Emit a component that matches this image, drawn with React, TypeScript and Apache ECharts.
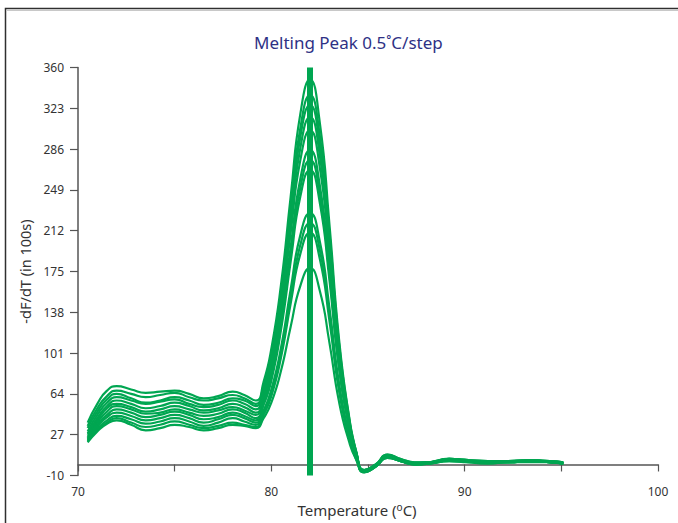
import React, { useEffect, useRef } from "react";
import * as echarts from "echarts";

// Temperatures (°C) at which each melt curve is sampled
const TEMPS = [70.5, 71, 71.5, 72, 72.75, 73.5, 74.25, 75, 75.75, 76.5, 77.25, 78, 78.6, 79.2, 79.6, 80, 80.5, 81, 81.5, 82, 82.5, 83, 83.5, 84, 84.4, 84.8, 85.4, 86, 86.7, 87.4, 88.2, 89.2, 90.2, 91.2, 92.2, 93.5, 94.4, 95.1];

// -dF/dT (in 100s) for each sample well
const CURVE_01 = [38, 55, 67, 71, 68, 65, 66, 67, 64, 60, 62, 66, 63, 58, 75, 105, 163, 243, 318, 349, 311, 219, 114, 46, 11, -7, -2, 6, 3, 0, 1, 4, 3, 2, 2, 3, 2, 1];
const CURVE_02 = [35, 51, 62, 67, 64, 61, 63, 65, 61, 58, 60, 63, 60, 55, 72, 100, 156, 233, 305, 335, 299, 211, 110, 45, 11, -6, -1, 8, 4, 1, 2, 5, 3, 2, 3, 4, 2, 1];
const CURVE_03 = [33, 48, 59, 64, 60, 56, 58, 61, 58, 54, 56, 60, 58, 53, 69, 97, 151, 226, 297, 326, 290, 204, 106, 43, 10, -7, -2, 7, 3, 0, 1, 4, 2, 1, 2, 3, 2, 1];
const CURVE_04 = [30, 45, 56, 61, 58, 55, 57, 59, 55, 52, 54, 58, 55, 50, 66, 92, 145, 218, 287, 315, 281, 198, 103, 42, 10, -6, -1, 9, 5, 2, 2, 5, 4, 3, 2, 4, 3, 2];
const CURVE_05 = [28, 42, 53, 58, 55, 51, 53, 56, 53, 49, 51, 55, 52, 47, 62, 88, 139, 210, 276, 303, 270, 191, 100, 41, 10, -5, 0, 8, 4, 1, 2, 4, 3, 2, 3, 3, 2, 1];
const CURVE_06 = [27, 40, 51, 55, 52, 48, 50, 53, 50, 47, 49, 52, 49, 45, 59, 83, 131, 197, 259, 285, 254, 178, 92, 37, 8, -7, -2, 6, 3, 0, 1, 3, 2, 1, 2, 2, 2, 1];
const CURVE_07 = [25, 38, 48, 53, 50, 46, 47, 50, 47, 44, 46, 50, 47, 42, 56, 79, 126, 191, 251, 276, 246, 173, 90, 36, 8, -6, -1, 7, 4, 1, 2, 5, 3, 2, 2, 3, 3, 2];
const CURVE_08 = [24, 36, 45, 50, 47, 43, 45, 48, 45, 41, 43, 47, 44, 40, 54, 76, 122, 184, 243, 267, 238, 168, 87, 36, 9, -5, 0, 9, 5, 2, 2, 5, 4, 3, 3, 4, 2, 1];
const CURVE_09 = [23, 34, 43, 47, 44, 40, 42, 45, 42, 38, 41, 45, 42, 38, 49, 68, 106, 159, 208, 228, 203, 143, 74, 29, 6, -6, -1, 7, 3, 1, 1, 4, 3, 2, 2, 3, 2, 1];
const CURVE_10 = [22, 32, 40, 44, 41, 37, 39, 42, 39, 35, 38, 42, 39, 36, 47, 65, 102, 152, 199, 219, 195, 137, 70, 27, 4, -7, -2, 6, 3, 0, 1, 3, 2, 2, 2, 3, 2, 1];
const CURVE_11 = [21, 31, 38, 42, 38, 34, 36, 39, 36, 33, 35, 38, 36, 34, 45, 62, 97, 146, 191, 210, 187, 131, 67, 26, 5, -6, -1, 8, 4, 1, 2, 4, 3, 2, 3, 4, 3, 2];
const CURVE_12 = [20, 30, 37, 40, 36, 31, 33, 36, 34, 31, 33, 36, 35, 33, 42, 56, 85, 125, 162, 178, 158, 111, 57, 22, 4, -5, 0, 7, 4, 1, 2, 4, 3, 2, 2, 3, 2, 1];

const CURVES = [CURVE_01, CURVE_02, CURVE_03, CURVE_04, CURVE_05, CURVE_06, CURVE_07, CURVE_08, CURVE_09, CURVE_10, CURVE_11, CURVE_12];

// Melting temperature marker
const TM_MARKER = 82;

// Axis ticks
const X_LABELS = [70, 80, 90, 100];
const Y_TICKS = [-10, 27, 64, 101, 138, 175, 212, 249, 286, 323, 360];

const GREEN = "#00a651";
const FONT = "'Noto Sans', 'DejaVu Sans', sans-serif";

export default function App() {
  const ref = useRef<HTMLDivElement>(null);

  useEffect(() => {
    if (!ref.current) return;
    const chart = echarts.init(ref.current, null, { renderer: "svg" });

    const curveSeries = CURVES.map((vals, i) => ({
      type: "line",
      name: "Well " + (i + 1),
      data: TEMPS.map((t, j) => [t, vals[j]]),
      showSymbol: false,
      smooth: 0.55,
      lineStyle: { color: GREEN, width: 2.2 },
      itemStyle: { color: GREEN },
      z: 2,
    }));

    const yMin = Y_TICKS[0];
    const yMax = Y_TICKS[Y_TICKS.length - 1];

    chart.setOption({
      animation: false,
      backgroundColor: "#ffffff",
      textStyle: { fontFamily: FONT },
      title: {
        text: "Melting Peak 0.5˚C/step",
        left: 249,
        top: 29,
        textStyle: {
          fontFamily: FONT,
          fontSize: 17,
          fontWeight: "normal",
          color: "#2e3185",
        },
      },
      graphic: [
        {
          type: "rect",
          shape: { x: 5.5, y: 8.5, width: 700, height: 600 },
          style: { fill: "none", stroke: "#2f2f2f", lineWidth: 1.5 },
          silent: true,
        },
        {
          type: "line",
          shape: { x1: 7, y1: 10.5, x2: 700, y2: 10.5 },
          style: { stroke: "#c8c8c8", lineWidth: 1 },
          silent: true,
        },
      ],
      grid: { left: 78, right: 20, top: 67.5, bottom: 47.5, containLabel: false },
      xAxis: {
        type: "value",
        min: 70,
        max: 100,
        interval: 5,
        name: "Temperature ({s|o}C)",
        nameLocation: "middle",
        nameGap: 26,
        nameTextStyle: {
          fontFamily: FONT,
          fontSize: 15,
          color: "#333333",
          padding: [0, 22, 0, 0],
          rich: {
            s: { fontSize: 10, verticalAlign: "top", lineHeight: 15, fontFamily: FONT, color: "#333333" },
          },
        },
        axisLine: { show: true, lineStyle: { color: "#555555", width: 1.5 } },
        axisTick: { show: true, length: 7, lineStyle: { color: "#555555", width: 1.2 } },
        axisLabel: {
          margin: 10,
          fontSize: 12,
          color: "#333333",
          fontFamily: FONT,
          formatter: (v: number) => (X_LABELS.includes(v) ? String(v) : ""),
        },
        splitLine: { show: false },
      },
      yAxis: {
        type: "value",
        min: yMin,
        max: yMax,
        interval: Y_TICKS[1] - Y_TICKS[0],
        name: "-dF/dT (in 100s)",
        nameLocation: "middle",
        nameGap: 37,
        nameTextStyle: { fontFamily: FONT, fontSize: 14.5, color: "#333333" },
        axisLine: { show: true, lineStyle: { color: "#555555", width: 1.5 } },
        axisTick: { show: true, length: 8, lineStyle: { color: "#555555", width: 1.2 } },
        axisLabel: { margin: 14, fontSize: 12, color: "#333333", fontFamily: FONT },
        splitLine: { show: false },
      },
      series: [
        ...curveSeries,
        {
          type: "line",
          name: "Tm",
          data: [
            [TM_MARKER, yMin],
            [TM_MARKER, yMax],
          ],
          showSymbol: false,
          lineStyle: { color: GREEN, width: 6, cap: "butt" },
          itemStyle: { color: GREEN },
          z: 3,
        },
      ],
    });

    return () => chart.dispose();
  }, []);

  return (
    <div
      ref={ref}
      style={{ position: "absolute", left: 0, top: 0, width: 678, height: 523 }}
    />
  );
}
